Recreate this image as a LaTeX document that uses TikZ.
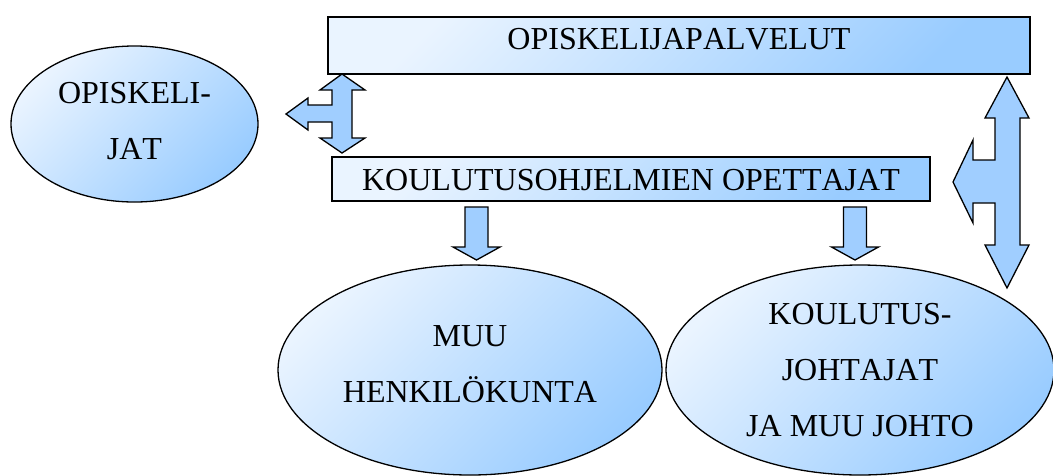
\documentclass[tikz,border=0pt]{standalone}
\usepackage{fontspec}
\setmainfont{Liberation Serif}[Kerning=Off]
\usetikzlibrary{shapes.geometric}
\definecolor{boxlight}{RGB}{234,244,255}
\definecolor{boxblue}{RGB}{153,204,255}
\definecolor{arrowblue}{RGB}{160,206,255}

\begin{document}
\begin{tikzpicture}[
    x=1pt, y=-1pt,
    every node/.style={font=\fontsize{32}{56}\selectfont, inner sep=0pt},
    unitfill/.style={draw, line width=1.3pt, top color=boxlight, bottom color=boxblue, shading angle=45},
    groupbox/.style={unitfill, rectangle},
    groupoval/.style={unitfill, ellipse, align=center},
    blockarrow/.style={draw, line width=1.3pt, fill=arrowblue, line join=miter}
]
\useasboundingbox (0,0) rectangle (1053,475);

% boxes and ovals
\node[groupbox, minimum width=702pt, minimum height=57pt, text height=22pt, text depth=14pt] (palvelut) at (679,45.5) {OPISKELIJAPALVELUT};
\node[groupbox, minimum width=598pt, minimum height=44pt, text height=22pt, text depth=0pt] (opettajat) at (631,179) {KOULUTUSOHJELMIEN OPETTAJAT};
\node[groupoval, minimum width=247pt, minimum height=156pt, text depth=7pt] (opiskelijat) at (134.5,124) {OPISKELI-\\JAT};
\node[groupoval, minimum width=384pt, minimum height=210pt, text depth=12pt] (henkilokunta) at (470,370) {MUU\\HENKILÖKUNTA};
\node[groupoval, minimum width=388pt, minimum height=210pt] (johto) at (860,370) {KOULUTUS-\\JOHTAJAT\\JA MUU JOHTO};

% three-way arrow on the left
\draw[blockarrow] (342,74) -- (365,90) -- (352,90) -- (352,138) -- (365,138) -- (342,153)
    -- (320,138) -- (332,138) -- (332,122) -- (308,122) -- (308,130) -- (286,114)
    -- (308,98) -- (308,105) -- (332,105) -- (332,90) -- (320,90) -- cycle;

% three-way arrow on the right
\draw[blockarrow] (1007,77) -- (1029,118) -- (1020,118) -- (1020,245) -- (1029,245) -- (1007,288)
    -- (985,245) -- (995,245) -- (995,203) -- (973,203) -- (973,223) -- (953,182)
    -- (973,140) -- (973,160) -- (995,160) -- (995,118) -- (985,118) -- cycle;

% down arrows
\foreach \ax in {476.5, 855} {
    \draw[blockarrow] (\ax-11.5,207) -- (\ax+11.5,207) -- (\ax+11.5,247) -- (\ax+23.5,247)
        -- (\ax,260) -- (\ax-23.5,247) -- (\ax-11.5,247) -- cycle;
}
\end{tikzpicture}
\end{document}
